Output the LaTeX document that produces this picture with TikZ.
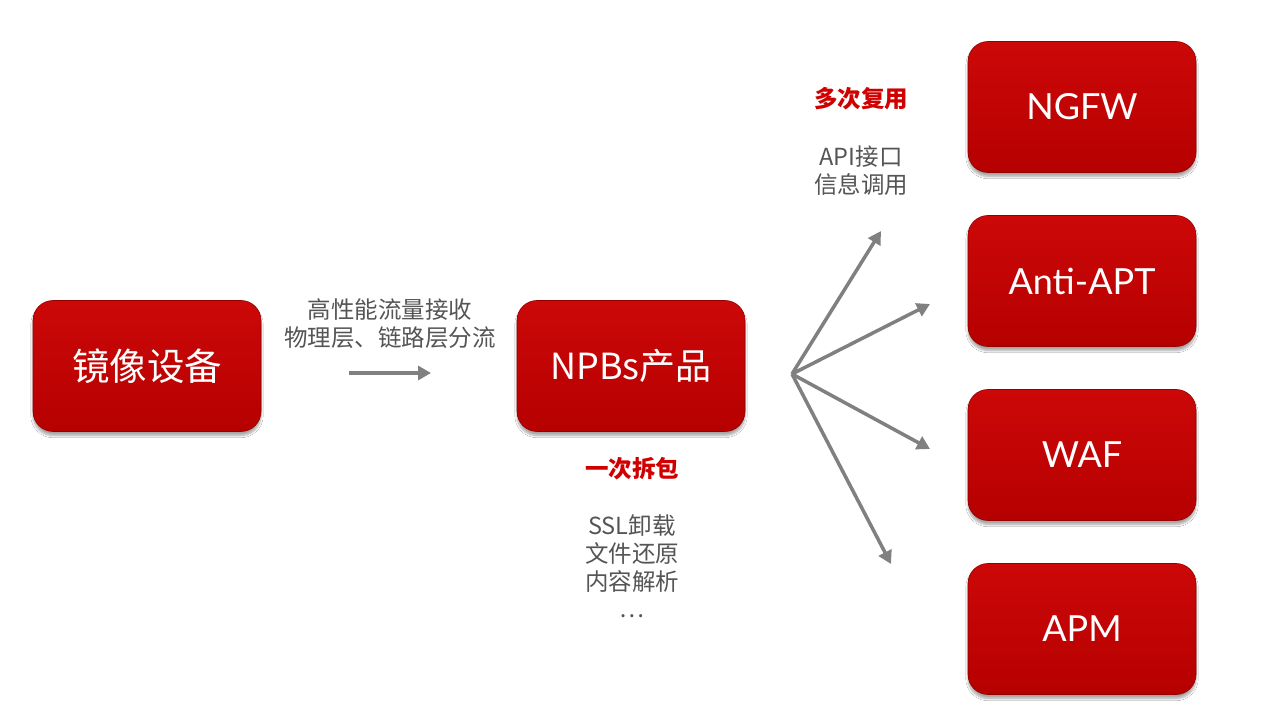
\documentclass[tikz,border=0pt]{standalone}
\usepackage{fontspec}
\setmainfont{Noto Sans CJK SC}
\newfontfamily\latinf{Lato}
\usetikzlibrary{shadows,shadows.blur,arrows.meta}
\definecolor{boxtop}{HTML}{CC0808}
\definecolor{boxbot}{HTML}{B60000}
\definecolor{arrgray}{HTML}{808080}
\definecolor{txtgray}{HTML}{555555}
\definecolor{txtred}{HTML}{D00000}
\tikzset{
  redbox/.style={rounded corners=20pt, minimum width=228pt, minimum height=131pt,
    top color=boxtop, bottom color=boxbot, draw=boxbot!80!black, line width=0.6pt,
    text=white, font=\fontsize{36}{40}\selectfont, inner sep=0pt,
    blur shadow={shadow xshift=0pt, shadow yshift=-4pt, shadow blur steps=8, shadow opacity=35}},
  lbl/.style={text=txtgray, font=\fontsize{23.5}{28}\selectfont, align=center, inner sep=0pt},
  redlbl/.style={text=txtred, font=\fontsize{23.5}{28}\selectfont\bfseries, inner sep=0pt},
  garrow/.style={draw=arrgray, line width=3.5pt, -{Triangle[length=13pt,width=14pt]}}
}
\begin{document}
\begin{tikzpicture}[x=1pt,y=1pt]
\useasboundingbox (0,0) rectangle (1280,720);
\fill[white] (0,0) rectangle (1280,720);
\node[redbox, font=\fontsize{37.5}{40}\selectfont] (mirror) at (147,354) {镜像设备};
\node[redbox] (npb) at (631,354) {NPBs产品};
\node[redbox] (ngfw) at (1082,613) {\latinf NGFW};
\node[redbox] (apt) at (1082,439) {\latinf Anti-APT};
\node[redbox] (waf) at (1082,265) {\latinf WAF};
\node[redbox] (apm) at (1082,91) {\latinf APM};

\node[lbl] (l1) at (390,410) {高性能流量接收};
\node[lbl] (l2) at (390,382) {物理层、链路层分流};
\coordinate (a1s) at (349,347);
\coordinate (a1e) at (431,347);
\draw[garrow] (a1s) -- (a1e);

\node[redlbl] (r1) at (632,251) {一次拆包};
\node[lbl] (s1) at (632,194) {SSL卸载};
\node[lbl] (s2) at (632,166) {文件还原};
\node[lbl] (s3) at (632,138) {内容解析};
\node[lbl] (s4) at (632,104) {…};

\node[redlbl] (r2) at (861,621) {多次复用};
\node[lbl] (m1) at (861,563) {API接口};
\node[lbl] (m2) at (861,535) {信息调用};

\coordinate (fan) at (792,346);
\coordinate (t1) at (881,489);
\coordinate (t2) at (930,416);
\coordinate (t3) at (930,271);
\coordinate (t4) at (891,156);
\draw[garrow] (fan) -- (t1);
\draw[garrow] (fan) -- (t2);
\draw[garrow] (fan) -- (t3);
\draw[garrow] (fan) -- (t4);
\end{tikzpicture}
\end{document}
